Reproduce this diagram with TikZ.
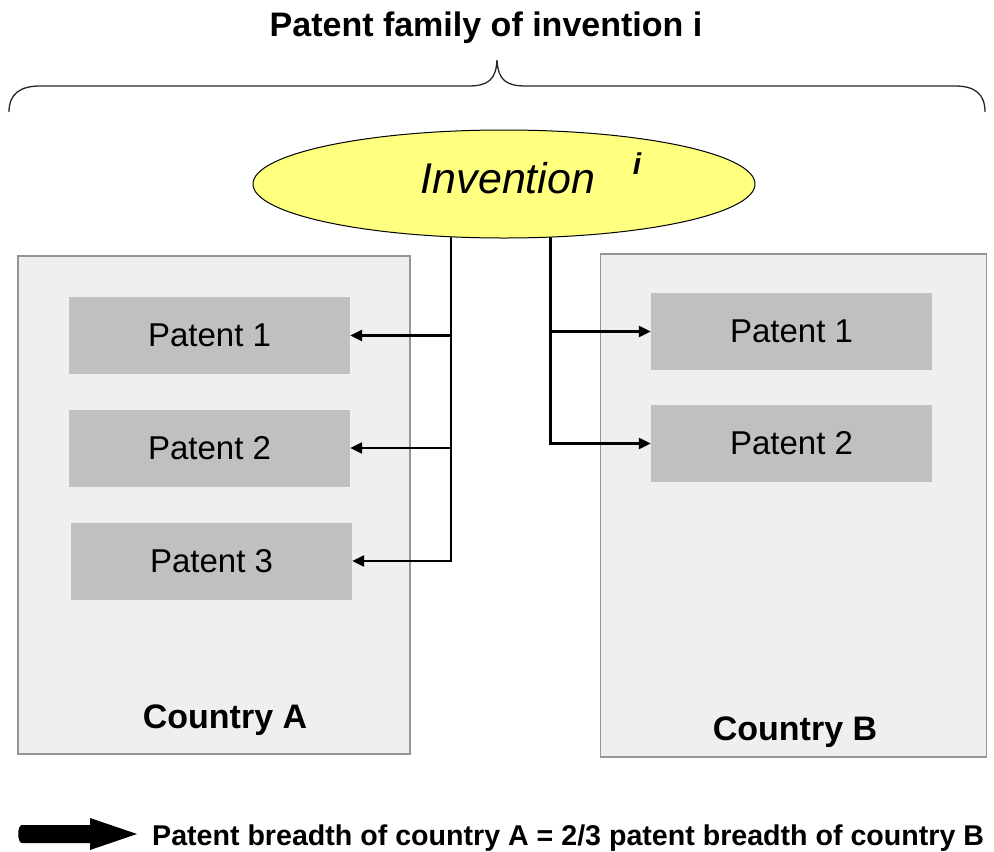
\documentclass[tikz,border=0pt]{standalone}
\usepackage{fontspec}
\setmainfont{Liberation Sans}
\usetikzlibrary{shapes.geometric,arrows.meta}
\definecolor{invyellow}{RGB}{255,255,128}
\definecolor{boxfill}{RGB}{239,239,239}
\definecolor{boxline}{RGB}{150,150,150}
\definecolor{patfill}{RGB}{192,192,192}
\tikzset{
  country/.style={draw=boxline, line width=1.4pt, fill=boxfill, inner sep=0pt},
  patent/.style={fill=patfill, inner sep=0pt, minimum width=281pt, minimum height=77pt, font=\fontsize{33}{38}\selectfont},
  conn/.style={line width=2.5pt, -{Triangle[length=12pt,width=11pt]}},
  boldtxt/.style={font=\fontsize{34}{40}\selectfont\bfseries, inner sep=0pt},
}
\begin{document}
\begin{tikzpicture}[x=1pt,y=-1pt]
\useasboundingbox (0,0) rectangle (994,852);
% title and brace
\node[boldtxt, anchor=base] (title) at (486,36) {Patent family of invention i};
\draw[line width=1.3pt, black!85] (9,112) .. controls (9,94) and (20,86) .. (40,86) -- (468,86)
  .. controls (488,86) and (496,80) .. (497,60)
  .. controls (498,80) and (506,86) .. (526,86) -- (955,86)
  .. controls (975,86) and (985,94) .. (985,112);
% countries
\node[country, minimum width=392pt, minimum height=498pt] (ca) at (214,505) {};
\node[country, minimum width=386pt, minimum height=503pt] (cb) at (793.5,505.5) {};
\node[boldtxt, anchor=base] (cal) at (225,728) {Country A};
\node[boldtxt, anchor=base] (cbl) at (795,740) {Country B};
% patents
\node[patent] (a1) at (209.5,335.5) {Patent 1};
\node[patent] (a2) at (209.5,448) {Patent 2};
\node[patent] (a3) at (211.5,561) {Patent 3};
\node[patent] (b1) at (791.5,331.5) {Patent 1};
\node[patent] (b2) at (791.5,443.5) {Patent 2};
% connectors
\coordinate (jl) at (451,220);
\coordinate (jr) at (550.5,220);
\draw[conn] (jl) |- (a1.east);
\draw[conn] (jl) |- (a2.east);
\draw[conn] (jl) |- (a3.east);
\draw[conn] (jr) |- (b1.west);
\draw[conn] (jr) |- (b2.west);
% invention ellipse
\node[ellipse, draw=black, line width=1pt, fill=invyellow, minimum width=502pt, minimum height=108pt, inner sep=0pt] (inv) at (504,184) {};
\node[anchor=base, inner sep=0pt, font=\fontsize{43}{50}\selectfont\itshape] (invt) at (508,193) {Invention};
\node[anchor=base, inner sep=0pt, font=\fontsize{30}{34}\selectfont\bfseries\itshape] (invi) at (637,174) {i};
% legend
\fill[black] (22,825) -- (90,825) -- (90,818) -- (137,834) -- (90,850) -- (90,843) -- (22,843)
  .. controls (17,843) and (17,825) .. (22,825) -- cycle;
\node[anchor=base west, inner sep=0pt, font=\fontsize{28.6}{33}\selectfont\bfseries] (leg) at (152,845) {Patent breadth of country A = 2/3 patent breadth of country B};
\end{tikzpicture}
\end{document}
